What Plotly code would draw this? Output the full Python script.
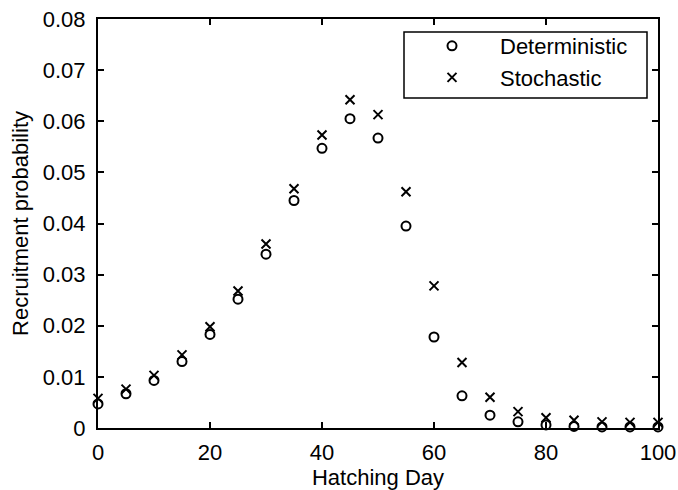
import plotly.graph_objects as go

days = [0, 5, 10, 15, 20, 25, 30, 35, 40, 45, 50, 55, 60, 65, 70, 75, 80, 85, 90, 95, 100]
deterministic = [0.0047, 0.0067, 0.0093, 0.0130, 0.0183, 0.0252, 0.0340, 0.0445, 0.0547, 0.0605,
                 0.0567, 0.0395, 0.0178, 0.0063, 0.0025, 0.0012, 0.0006, 0.0003, 0.0002, 0.0002, 0.0002]
stochastic = [0.0058, 0.0076, 0.0103, 0.0143, 0.0198, 0.0268, 0.0360, 0.0468, 0.0573, 0.0642,
              0.0613, 0.0462, 0.0278, 0.0128, 0.0060, 0.0032, 0.0020, 0.0015, 0.0012, 0.0011, 0.0011]

fig = go.Figure()
fig.add_trace(go.Scatter(x=days, y=deterministic, mode="markers", name="Deterministic",
                         marker=dict(symbol="circle-open", size=9, color="black", line=dict(width=2, color="black")),
                         cliponaxis=False))
fig.add_trace(go.Scatter(x=days, y=stochastic, mode="markers", name="Stochastic",
                         marker=dict(symbol="x-thin-open", size=9, color="black", line=dict(width=2, color="black")),
                         cliponaxis=False))

font = dict(family="Liberation Sans, Arial, sans-serif", size=22, color="black")
legfont = dict(family="Liberation Sans, Arial, sans-serif", size=22, color="black")

L, R, T, B = 98, 658, 19, 428
W, H = R - L, B - T
def px(x):
    return (x - L) / W
def py(y):
    return (B - y) / H

fig.update_layout(
    width=678, height=490,
    margin=dict(l=L, r=678 - R, t=T, b=490 - B, autoexpand=False),
    paper_bgcolor="white", plot_bgcolor="white",
    font=font,
    showlegend=True,
    legend=dict(x=px(404), y=py(25), xanchor="left", yanchor="top",
                bgcolor="rgba(0,0,0,0)", borderwidth=0,
                font=legfont, itemwidth=86, tracegroupgap=0),
    shapes=[dict(type="rect", xref="paper", yref="paper",
                 x0=px(404), x1=px(647), y0=py(98), y1=py(32),
                 line=dict(color="black", width=1.5), fillcolor="white", layer="above")],
)
fig.update_xaxes(range=[0, 100], dtick=20, tick0=0, showgrid=False, zeroline=False,
                 showline=True, linecolor="black", linewidth=2, mirror="ticks",
                 ticks="inside", ticklen=6, tickwidth=1.5, tickcolor="black",
                 ticklabelstandoff=4, automargin=True,
                 title=dict(text="Hatching Day", standoff=3, font=font), tickfont=font)
fig.update_yaxes(range=[0, 0.08], dtick=0.01, tick0=0, showgrid=False, zeroline=False,
                 showline=True, linecolor="black", linewidth=2, mirror="ticks",
                 ticks="inside", ticklen=6, tickwidth=1.5, tickcolor="black",
                 ticklabelstandoff=6, automargin=False,
                 title=dict(text="Recruitment probability", standoff=8, font=font), tickfont=font)

fig.write_html("out.html")
